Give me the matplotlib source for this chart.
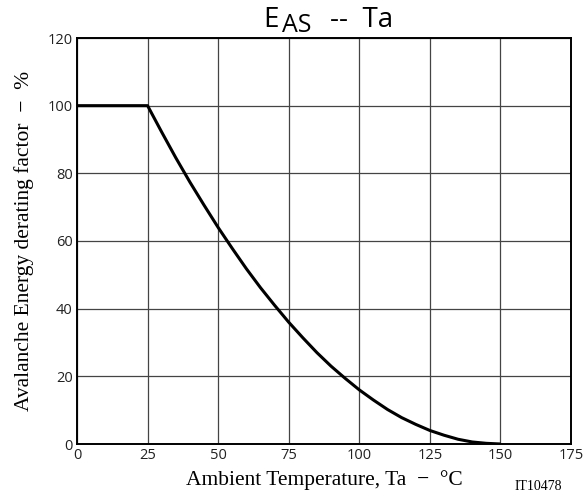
import numpy as np
import matplotlib.pyplot as plt

# 温度 (°C) と アバランシェエネルギー低減率 (%) - 図から読み取った値
temp = [0, 25, 30, 35, 40, 45, 50, 55, 60, 65, 70, 75, 80, 85, 90, 95,
        100, 105, 110, 115, 120, 125, 130, 135, 140, 145, 150]
factor = [100, 100, 92.2, 84.6, 77.4, 70.6, 64.0, 57.8, 51.8, 46.2, 41.0, 36.0,
          31.4, 27.0, 23.0, 19.4, 16.0, 13.0, 10.2, 7.8, 5.8, 4.0, 2.6, 1.4,
          0.6, 0.2, 0]

x_ticks = [0, 25, 50, 75, 100, 125, 150, 175]
y_ticks = [0, 20, 40, 60, 80, 100, 120]

W, H = 583, 499
fig = plt.figure(figsize=(W / 100, H / 100), dpi=100)
ax = fig.add_axes([77 / W, 1 - 444 / H, (571 - 77) / W, (444 - 38) / H])

ax.plot(temp, factor, color='black', linewidth=2.2, solid_capstyle='butt')

ax.set_xlim(0, 175)
ax.set_ylim(0, 120)
ax.set_xticks(x_ticks)
ax.set_yticks(y_ticks)
ax.grid(True, color='#444444', linewidth=0.9)
ax.tick_params(length=0, labelsize=10.5, pad=3)
for lab in ax.get_xticklabels() + ax.get_yticklabels():
    lab.set_family('Open Sans')
    lab.set_color('#222222')
for s in ax.spines.values():
    s.set_linewidth(1.4)

ax.set_xlabel('Ambient Temperature, Ta  \u2212  °C', family='Liberation Serif',
              fontsize=15.5, labelpad=5)
ax.set_ylabel('Avalanche Energy derating factor  \u2212  %', family='Liberation Serif',
              fontsize=15.5, labelpad=10)

# タイトル (E の後に下付きの AS)
fig.text(263 / W, 1 - 26.7 / H, 'E', family='Open Sans', fontsize=20,
         ha='left', va='baseline')
fig.text(282 / W, 1 - 32.3 / H, 'AS', family='Open Sans', fontsize=18,
         ha='left', va='baseline')
fig.text(330 / W, 1 - 26.7 / H, '--  Ta', family='Open Sans', fontsize=20,
         ha='left', va='baseline')

fig.text(562 / W, 1 - 490 / H, 'IT10478', family='Liberation Serif', fontsize=10,
         ha='right', va='baseline')

fig.savefig('out.png', dpi=100)
